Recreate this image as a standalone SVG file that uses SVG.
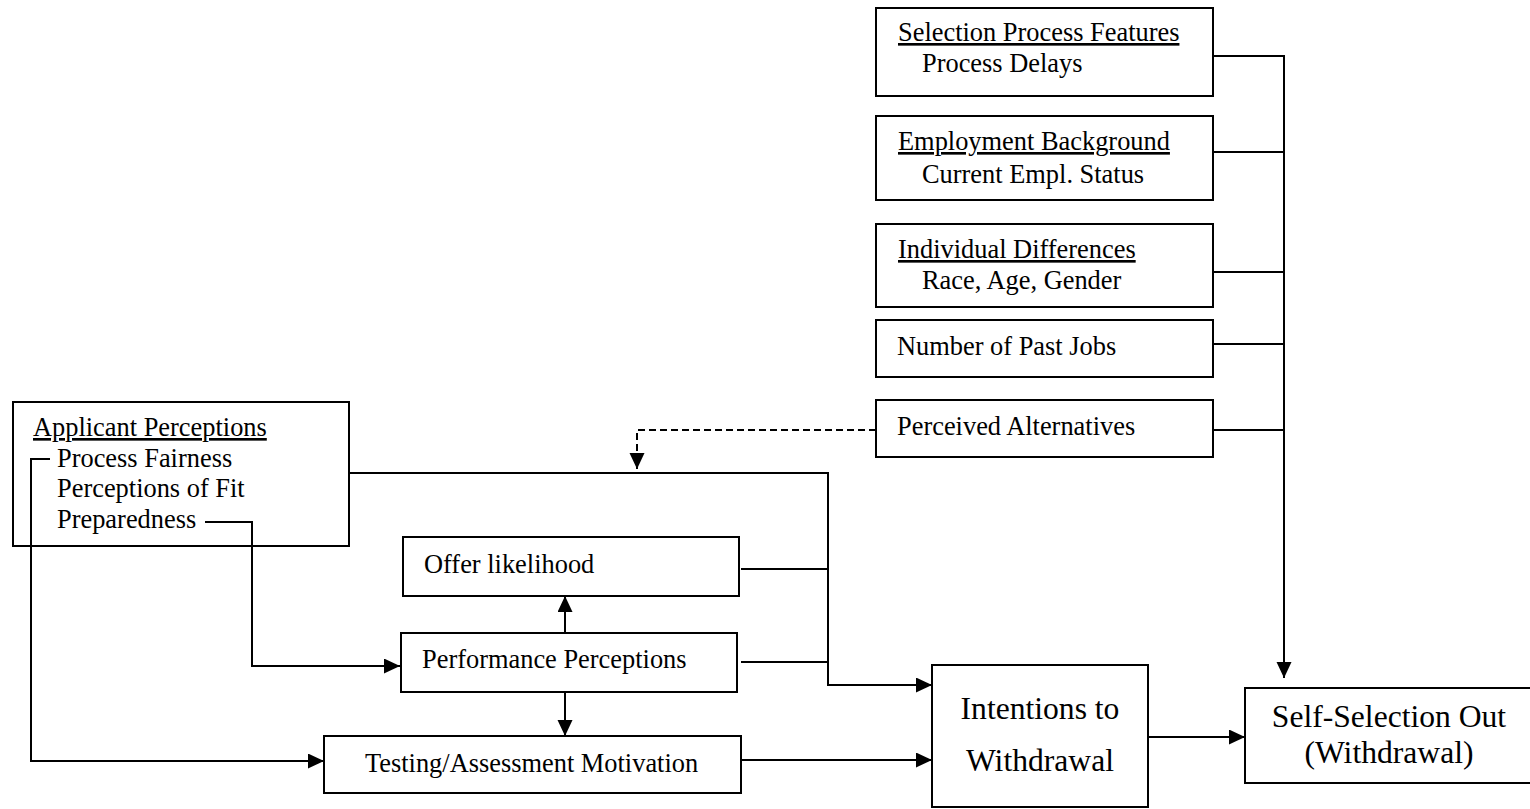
<svg xmlns="http://www.w3.org/2000/svg" width="1530" height="809" viewBox="0 0 1530 809">
<defs>
<style>
.box{fill:#fff;stroke:#000;stroke-width:2}
.t{font-family:"Liberation Serif","Times New Roman",serif;font-size:26.4px;fill:#000}
.big{font-family:"Liberation Serif","Times New Roman",serif;font-size:31.6px;fill:#000}
.u{text-decoration:underline}
.c{fill:none;stroke:#000;stroke-width:2}
.d{fill:none;stroke:#000;stroke-width:2;stroke-dasharray:7,4}
</style>
<marker id="ah" markerUnits="userSpaceOnUse" markerWidth="17" markerHeight="16" refX="16" refY="7.5" orient="auto">
<path d="M0,0 L16,7.5 L0,15 z" fill="#000"/>
</marker>
</defs>
<rect width="1530" height="809" fill="#fff"/>

<g id="selection-process-features">
<rect class="box" x="876" y="8" width="337" height="88"/>
<text class="t u" x="898" y="41">Selection Process Features</text>
<text class="t" x="922" y="72">Process Delays</text>
</g>
<g id="employment-background">
<rect class="box" x="876" y="116" width="337" height="84"/>
<text class="t u" x="898" y="150">Employment Background</text>
<text class="t" x="922" y="183">Current Empl. Status</text>
</g>
<g id="individual-differences">
<rect class="box" x="876" y="224" width="337" height="83"/>
<text class="t u" x="898" y="258">Individual Differences</text>
<text class="t" x="922" y="289">Race, Age, Gender</text>
</g>
<g id="number-of-past-jobs">
<rect class="box" x="876" y="320" width="337" height="57"/>
<text class="t" x="897" y="355">Number of Past Jobs</text>
</g>
<g id="perceived-alternatives">
<rect class="box" x="876" y="400" width="337" height="57"/>
<text class="t" x="897" y="435">Perceived Alternatives</text>
</g>
<g id="applicant-perceptions">
<rect class="box" x="13" y="402" width="336" height="144"/>
<text class="t u" x="33" y="436">Applicant Perceptions</text>
<text class="t" x="57" y="467">Process Fairness</text>
<text class="t" x="57" y="497">Perceptions of Fit</text>
<text class="t" x="57" y="528">Preparedness</text>
</g>
<g id="offer-likelihood">
<rect class="box" x="403" y="537" width="336" height="59"/>
<text class="t" x="424" y="573">Offer likelihood</text>
</g>
<g id="performance-perceptions">
<rect class="box" x="401" y="633" width="336" height="59"/>
<text class="t" x="422" y="668">Performance Perceptions</text>
</g>
<g id="testing-assessment-motivation">
<rect class="box" x="324" y="736" width="417" height="57"/>
<text class="t" x="365" y="772">Testing/Assessment Motivation</text>
</g>
<g id="intentions-to-withdrawal">
<rect class="box" x="932" y="665" width="216" height="142"/>
<text class="big" x="1040" y="719" text-anchor="middle">Intentions to</text>
<text class="big" x="1040" y="771" text-anchor="middle">Withdrawal</text>
</g>
<g id="self-selection-out">
<rect class="box" x="1245" y="688" width="300" height="95"/>
<text class="big" x="1389" y="727" text-anchor="middle">Self-Selection Out</text>
<text class="big" x="1389" y="763" text-anchor="middle">(Withdrawal)</text>
</g>

<g id="connectors">
<polyline class="c" points="1213,56 1284,56 1284,678" marker-end="url(#ah)"/>
<line class="c" x1="1213" y1="152" x2="1284" y2="152"/>
<line class="c" x1="1213" y1="272" x2="1284" y2="272"/>
<line class="c" x1="1213" y1="344" x2="1284" y2="344"/>
<line class="c" x1="1213" y1="430" x2="1284" y2="430"/>
<polyline class="d" points="876,430 637,430 637,469" marker-end="url(#ah)"/>
<polyline class="c" points="349,473 828,473 828,685 932,685" marker-end="url(#ah)"/>
<line class="c" x1="741" y1="569" x2="828" y2="569"/>
<line class="c" x1="741" y1="662" x2="828" y2="662"/>
<line class="c" x1="741" y1="760" x2="932" y2="760" marker-end="url(#ah)"/>
<polyline class="c" points="205,522 252,522 252,666 400,666" marker-end="url(#ah)"/>
<polyline class="c" points="50,459 31,459 31,761 324,761" marker-end="url(#ah)"/>
<line class="c" x1="565" y1="633" x2="565" y2="596" marker-end="url(#ah)"/>
<line class="c" x1="565" y1="692" x2="565" y2="736" marker-end="url(#ah)"/>
<line class="c" x1="1148" y1="737" x2="1245" y2="737" marker-end="url(#ah)"/>
</g>
</svg>
